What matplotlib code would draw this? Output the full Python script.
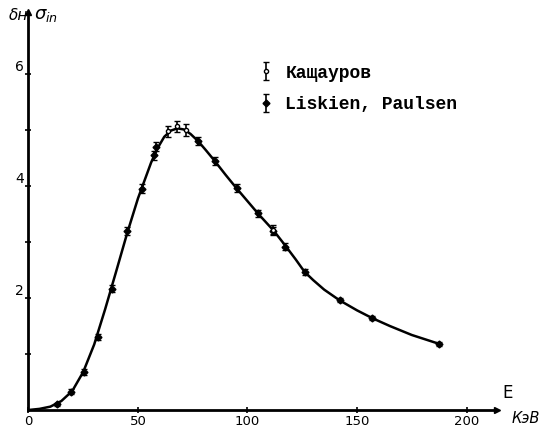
import matplotlib
matplotlib.use('Agg')
from matplotlib import pyplot as plt

# smooth curve
curve_e = [0, 5, 10, 15, 20, 25, 30, 35, 40, 45, 50, 53, 56, 59, 62, 65, 68, 71,
           74, 77.5, 81, 85, 90, 95, 100, 105, 112, 117, 122, 126, 130, 135, 142,
           150, 157, 165, 175, 187.6]
curve_s = [0.0, 0.02, 0.06, 0.16, 0.34, 0.68, 1.17, 1.8, 2.47, 3.15, 3.78, 4.1,
           4.42, 4.68, 4.88, 4.99, 5.03, 5.01, 4.93, 4.8, 4.64, 4.45, 4.2, 3.96,
           3.73, 3.5, 3.2, 2.95, 2.69, 2.47, 2.32, 2.15, 1.96, 1.78, 1.64, 1.5,
           1.34, 1.18]

# Liskien, Paulsen
lp_e = [12.9, 19.3, 25.5, 31.6, 38.0, 45.1, 52.0, 57.3, 58.2, 77.5, 85.2, 95.3,
        104.7, 111.8, 117.1, 126.3, 142.2, 157.0, 187.6]
lp_s = [0.1, 0.33, 0.68, 1.3, 2.17, 3.2, 3.95, 4.55, 4.7, 4.8, 4.45, 3.96,
        3.51, 3.2, 2.92, 2.46, 1.96, 1.64, 1.18]
lp_err = [0.03, 0.04, 0.05, 0.05, 0.06, 0.07, 0.08, 0.08, 0.08, 0.07, 0.07, 0.07,
          0.06, 0.06, 0.06, 0.05, 0.04, 0.03, 0.03]

# Кащауров
k_e = [63.8, 67.9, 72.1, 111.8]
k_s = [4.98, 5.07, 5.0, 3.22]
k_err = [0.1, 0.1, 0.1, 0.09]

fig = plt.figure(figsize=(5.42, 4.30), dpi=100)
ax = fig.add_axes([0.0485, 0.04, 0.8688, 0.931])

ax.plot(curve_e, curve_s, color='black', lw=1.8, zorder=2)
h_lp = ax.errorbar(lp_e, lp_s, yerr=lp_err, fmt='D', ms=3.5, color='black',
                   capsize=2, elinewidth=1.2, zorder=3)
h_k = ax.errorbar(k_e, k_s, yerr=k_err, fmt='o', ms=3, mfc='white', mec='black',
                  color='black', capsize=2.5, elinewidth=1.2, zorder=3)

ax.set_xlim(-1, 214)
ax.set_ylim(-0.05, 7.1)
for s in ['top', 'right']:
    ax.spines[s].set_visible(False)
ax.spines['left'].set_position(('data', 0))
ax.spines['bottom'].set_position(('data', 0))
ax.spines['left'].set_linewidth(2)
ax.spines['bottom'].set_linewidth(2)
ax.spines['left'].set_bounds(0, 7.05)
ax.spines['bottom'].set_bounds(0, 214)

ax.set_xticks([0, 50, 100, 150, 200])
ax.set_xticklabels(['0', '50', '100', '150', '200'])
ax.set_yticks([1, 2, 3, 4, 5, 6])
ax.set_yticklabels(['', '2', '', '4', '', '6'])
ax.tick_params(axis='both', direction='inout', length=5, width=1.2,
               labelsize=10, pad=1)
ax.tick_params(axis='x', pad=1, labelsize=9.5)
for lab in ax.get_xticklabels():
    lab.set_fontfamily('DejaVu Sans Condensed')
for lab in ax.get_yticklabels():
    lab.set_fontfamily('DejaVu Sans Condensed')
    lab.set_verticalalignment('bottom')

# arrow heads at the ends of the axes
ax.plot(0, 1, marker='^', ms=5, color='black', transform=ax.get_xaxis_transform(),
        clip_on=False)
ax.plot(1, 0, marker='>', ms=5, color='black', transform=ax.get_yaxis_transform(),
        clip_on=False)

fig.text(0.052, 0.965, 'δн', ha='right', va='center', fontsize=11, style='italic')
fig.text(0.062, 0.965, r'$\sigma_{in}$', ha='left', va='center', fontsize=13)
fig.text(0.937, 0.085, 'E', ha='center', va='center', fontsize=12,
         family='DejaVu Sans Condensed')
fig.text(0.996, 0.027, 'КэВ', ha='right', va='center', fontsize=10.5, style='italic')

leg = ax.legend([h_k, h_lp], ['Кащауров', 'Liskien, Paulsen'],
                loc='upper left', bbox_to_anchor=(0.462, 0.91), frameon=False,
                handlelength=0.6, handletextpad=0.8, labelspacing=0.8,
                prop={'family': 'Liberation Mono', 'weight': 'bold', 'size': 13})

fig.savefig('out.png', dpi=100)
